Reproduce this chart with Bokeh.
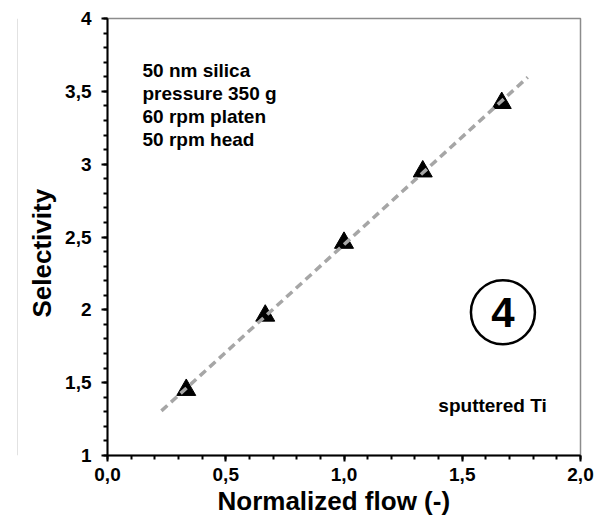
from bokeh.plotting import figure
from bokeh.models import FixedTicker, Label, Span, Title
from bokeh.layouts import row
from bokeh.embed import file_html
from bokeh.resources import INLINE
import numpy as np

# Measured selectivity against normalized slurry flow
flow = [0.333, 0.667, 1.0, 1.333, 1.667]
selectivity = [1.45, 1.96, 2.46, 2.95, 3.42]

x_ticks = [0.0, 0.5, 1.0, 1.5, 2.0]
x_tick_labels = ["0,0", "0,5", "1,0", "1,5", "2,0"]
y_ticks = [1.0, 1.5, 2.0, 2.5, 3.0, 3.5, 4.0]
y_tick_labels = ["1", "1,5", "2", "2,5", "3", "3,5", "4"]

x_title = "Normalized flow (-)"
y_title = "Selectivity"
conditions = ["50 nm silica", "pressure 350 g", "60 rpm platen", "50 rpm head"]
panel_number = "4"
material = "sputtered Ti"

FONT = "Liberation Sans"

# narrow strip carrying the thin grey rule at the left edge of the panel
edge = figure(width=18, height=518, margin=0, x_range=(0, 18), y_range=(0, 1),
              x_axis_type=None, y_axis_type=None, min_border=0,
              output_backend="svg", toolbar_location=None,
              outline_line_color=None)
edge.grid.visible = False
edge.add_layout(Span(location=17.5, dimension="height",
                     line_color="#c4c4c4", line_width=1))

p = figure(
    width=584, height=518, margin=0,
    x_range=(0, 2), y_range=(1, 4),
    output_backend="svg", toolbar_location=None,
    min_border_left=89, min_border_right=22,
    min_border_top=18, min_border_bottom=63,
    outline_line_color="#8c8c8c", outline_line_width=1.5,
)
p.grid.visible = False

p.xaxis.ticker = FixedTicker(ticks=x_ticks,
                             minor_ticks=[round(i * 0.1, 1) for i in range(21)])
p.yaxis.ticker = FixedTicker(ticks=y_ticks,
                             minor_ticks=[round(1 + i * 0.1, 1) for i in range(31)])
p.xaxis.major_label_overrides = dict(zip(x_ticks, x_tick_labels))
p.yaxis.major_label_overrides = dict(zip(y_ticks, y_tick_labels))

for ax in (p.xaxis, p.yaxis):
    ax.axis_line_color = "black"
    ax.axis_line_width = 2
    ax.major_tick_line_color = "black"
    ax.major_tick_line_width = 2
    ax.minor_tick_line_color = "black"
    ax.minor_tick_line_width = 2
    ax.major_tick_in = 0
    ax.major_tick_out = 6
    ax.minor_tick_in = 0
    ax.minor_tick_out = 4
    ax.major_label_text_font = FONT
    ax.major_label_text_font_style = "bold"
    ax.major_label_text_font_size = "19px"
    ax.major_label_text_color = "black"

p.xaxis.major_label_standoff = 6
p.yaxis.major_label_standoff = 10

# Axis titles as side titles, offset along the axis from the frame start
p.add_layout(Title(text=x_title, align="left", offset=110, standoff=0,
                   text_font=FONT, text_font_style="bold",
                   text_font_size="26px", text_color="black"), "below")
p.add_layout(Title(text=y_title, align="left", offset=138, standoff=12,
                   text_font=FONT, text_font_style="bold",
                   text_font_size="26px", text_color="black"), "left")

# Data points
p.scatter(flow, selectivity, marker="triangle", size=19,
          fill_color="black", line_color="black")

# Linear trend line, extended slightly past the measured range
slope, intercept = np.polyfit(flow, selectivity, 1)
x_fit = np.array([min(flow) - 0.105, max(flow) + 0.11])
p.line(x_fit, slope * x_fit + intercept, line_color="#a6a6a6",
       line_width=3.5, line_dash="8 5")

# Process conditions block
line_step = 23 / 145.67
for i, txt in enumerate(conditions):
    p.add_layout(Label(x=0.148, y=3.643 - i * line_step, text=txt,
                       text_font=FONT, text_font_style="bold",
                       text_font_size="19px", text_color="black",
                       text_baseline="middle", text_align="left"))

# Circled panel number
p.scatter([1.672], [1.984], marker="circle", size=64,
          fill_color=None, line_color="black", line_width=2.5)
p.add_layout(Label(x=1.672, y=1.984, text=panel_number,
                   text_font=FONT, text_font_style="bold",
                   text_font_size="42px", text_color="black",
                   text_baseline="middle", text_align="center"))

p.add_layout(Label(x=1.399, y=1.343, text=material,
                   text_font=FONT, text_font_style="bold",
                   text_font_size="19px", text_color="black",
                   text_baseline="middle", text_align="left"))

layout = row(edge, p, spacing=0, margin=0)
open("out.html", "w").write(file_html(layout, INLINE))
